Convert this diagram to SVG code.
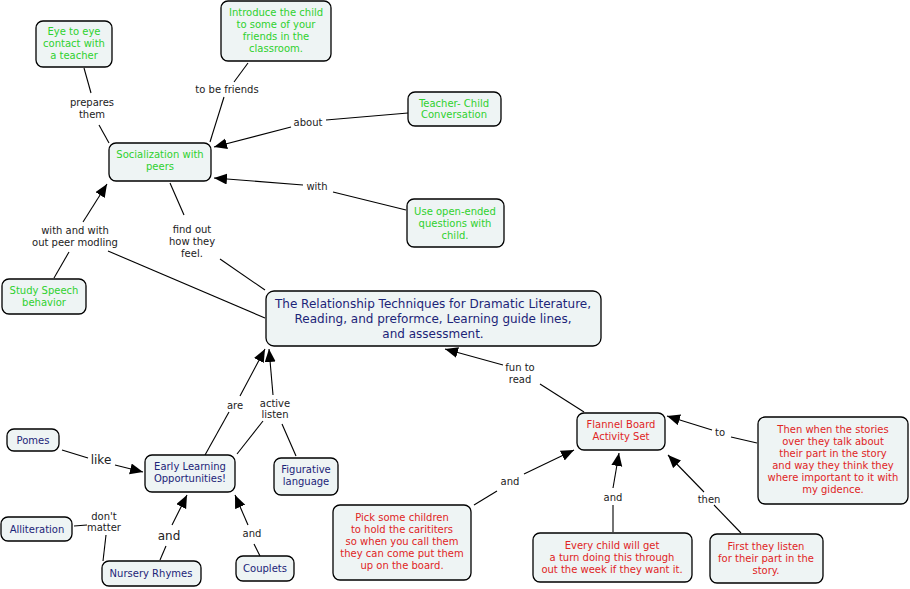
<svg xmlns="http://www.w3.org/2000/svg" width="910" height="589" viewBox="0 0 910 589">
<style>
.n{fill:#eef4f4;stroke:#000;stroke-width:1.3}
.t{font-family:"DejaVu Sans",Verdana,sans-serif;font-size:10px;text-anchor:middle}
.g{fill:#2ed12e}
.b{fill:#1c2478}
.r{fill:#e02424}
.m{font-size:12px}
.l{font-family:"DejaVu Sans",Verdana,sans-serif;font-size:10px;text-anchor:middle;fill:#222}
.big{font-size:12px}
.c{stroke:#000;stroke-width:1.1;fill:none}
.a{marker-end:url(#ah)}
</style>
<defs>
<marker id="ah" markerUnits="userSpaceOnUse" markerWidth="14" markerHeight="12" refX="13" refY="5.5" orient="auto">
<path d="M0,0 L13,5.5 L0,11 z" fill="#000"/>
</marker>
</defs>
<rect width="910" height="589" fill="#fff"/>
<g id="connectors">
<path class="c" d="M84,68 L91,93"/><text class="l" x="92" y="106">prepares</text><text class="l" x="92" y="118">them</text><path class="c" d="M99,125 L109,143"/>
<path class="c" d="M248,63 L234,82"/><text class="l" x="227" y="93">to be friends</text><path class="c" d="M224,97 L210,142"/>
<path class="c" d="M408,113 L326,120"/><text class="l" x="308" y="126">about</text><path class="c a" d="M291,127 L214,147"/>
<path class="c" d="M406,210 L333,192"/><text class="l" x="317" y="190">with</text><path class="c a" d="M303,185 L214,178"/>
<path class="c" d="M54,278 L69,252"/><text class="l" x="75" y="234">with and with</text><text class="l" x="75" y="246">out peer modling</text><path class="c a" d="M83,222 L107,184"/>
<path class="c" d="M108,251 L265,318"/>
<path class="c" d="M170,183 L184,215"/><text class="l" x="192" y="233">find out</text><text class="l" x="192" y="245">how they</text><text class="l" x="192" y="257">feel.</text><path class="c" d="M220,259 L265,290"/>
<path class="c" d="M205,455 L229,412"/><text class="l" x="235" y="409">are</text><path class="c a" d="M240,396 L265,349"/>
<path class="c" d="M237,454 L263,421"/><text class="l" x="275" y="407">active</text><text class="l" x="275" y="418">listen</text><path class="c a" d="M273,395 L269,349"/>
<path class="c" d="M296,456 L282,424"/>
<path class="c" d="M62,450 L88,458"/><text class="l big" x="101" y="464">like</text><path class="c a" d="M115,465 L143,472"/>
<path class="c" d="M160,560 L166,546"/><text class="l big" x="169" y="540">and</text><path class="c a" d="M172,525 L187,495"/>
<path class="c" d="M260,556 L254,544"/><text class="l" x="252" y="537">and</text><path class="c a" d="M248,525 L235,495"/>
<path class="c" d="M74,526 L87,525"/><text class="l" x="104" y="520">don't</text><text class="l" x="104" y="531">matter</text><path class="c" d="M106,535 L103,561"/>
<path class="c" d="M584,412 L540,384"/><text class="l" x="520" y="371">fun to</text><text class="l" x="520" y="383">read</text><path class="c a" d="M503,365 L445,349"/>
<path class="c" d="M757,443 L731,437"/><text class="l" x="720" y="436">to</text><path class="c a" d="M712,430 L667,416"/>
<path class="c" d="M474,505 L497,491"/><text class="l" x="510" y="485">and</text><path class="c a" d="M524,474 L574,450"/>
<path class="c" d="M613,532 L613,505"/><text class="l" x="613" y="501">and</text><path class="c a" d="M613,488 L619,453"/>
<path class="c" d="M741,533 L714,505"/><text class="l" x="709" y="503">then</text><path class="c a" d="M704,492 L668,455"/>
</g>
<g id="n-eye"><rect class="n" x="36" y="21" width="76" height="46" rx="7"/><text class="t g" x="74" y="35">Eye to eye</text><text class="t g" x="74" y="47">contact with</text><text class="t g" x="74" y="59">a teacher</text></g>
<g id="n-introduce"><rect class="n" x="221" y="1" width="110" height="60" rx="7"/><text class="t g" x="276" y="16">Introduce the child</text><text class="t g" x="276" y="28">to some of your</text><text class="t g" x="276" y="40">friends in the</text><text class="t g" x="276" y="52">classroom.</text></g>
<g id="n-teacher"><rect class="n" x="408" y="92" width="93" height="34" rx="7"/><text class="t g" x="454" y="107">Teacher- Child</text><text class="t g" x="454" y="118">Conversation</text></g>
<g id="n-social"><rect class="n" x="109" y="143" width="102" height="38" rx="7"/><text class="t g" x="160" y="158">Socialization with</text><text class="t g" x="160" y="170">peers</text></g>
<g id="n-open"><rect class="n" x="407" y="199" width="97" height="48" rx="7"/><text class="t g" x="455" y="215">Use open-ended</text><text class="t g" x="455" y="227">questions with</text><text class="t g" x="455" y="239">child.</text></g>
<g id="n-study"><rect class="n" x="2" y="279" width="84" height="35" rx="7"/><text class="t g" x="44" y="294">Study Speech</text><text class="t g" x="44" y="306">behavior</text></g>
<g id="n-main"><rect class="n" x="266" y="291" width="335" height="55" rx="8"/><text class="t b m" x="433" y="308">The Relationship Techniques for Dramatic Literature,</text><text class="t b m" x="433" y="323">Reading, and preformce, Learning guide lines,</text><text class="t b m" x="433" y="338">and assessment.</text></g>
<g id="n-pomes"><rect class="n" x="7" y="429" width="52" height="22" rx="7"/><text class="t b" x="33" y="444">Pomes</text></g>
<g id="n-early"><rect class="n" x="145" y="455" width="90" height="37" rx="7"/><text class="t b" x="190" y="470">Early Learning</text><text class="t b" x="190" y="482">Opportunities!</text></g>
<g id="n-figurative"><rect class="n" x="274" y="458" width="64" height="37" rx="7"/><text class="t b" x="306" y="473">Figurative</text><text class="t b" x="306" y="485">language</text></g>
<g id="n-alliteration"><rect class="n" x="1" y="517" width="71" height="24" rx="7"/><text class="t b" x="37" y="533">Alliteration</text></g>
<g id="n-nursery"><rect class="n" x="102" y="561" width="99" height="25" rx="7"/><text class="t b" x="151" y="577">Nursery Rhymes</text></g>
<g id="n-couplets"><rect class="n" x="236" y="556" width="58" height="25" rx="7"/><text class="t b" x="265" y="572">Couplets</text></g>
<g id="n-flannel"><rect class="n" x="577" y="413" width="88" height="37" rx="7"/><text class="t r" x="621" y="428">Flannel Board</text><text class="t r" x="621" y="440">Activity Set</text></g>
<g id="n-then"><rect class="n" x="758" y="417" width="150" height="87" rx="7"/><text class="t r" x="833" y="433">Then when the stories</text><text class="t r" x="833" y="445">over they talk about</text><text class="t r" x="833" y="457">their part in the story</text><text class="t r" x="833" y="469">and way they think they</text><text class="t r" x="833" y="481">where important to it with</text><text class="t r" x="833" y="493">my gidence.</text></g>
<g id="n-pick"><rect class="n" x="333" y="505" width="138" height="75" rx="7"/><text class="t r" x="402" y="521">Pick some children</text><text class="t r" x="402" y="533">to hold the carititers</text><text class="t r" x="402" y="545">so when you call them</text><text class="t r" x="402" y="557">they can come put them</text><text class="t r" x="402" y="569">up on the board.</text></g>
<g id="n-every"><rect class="n" x="533" y="533" width="159" height="49" rx="7"/><text class="t r" x="612" y="549">Every child will get</text><text class="t r" x="612" y="561">a turn doing this through</text><text class="t r" x="612" y="573">out the week if they want it.</text></g>
<g id="n-first"><rect class="n" x="710" y="534" width="113" height="49" rx="7"/><text class="t r" x="766" y="550">First they listen</text><text class="t r" x="766" y="562">for their part in the</text><text class="t r" x="766" y="574">story.</text></g>
</svg>
